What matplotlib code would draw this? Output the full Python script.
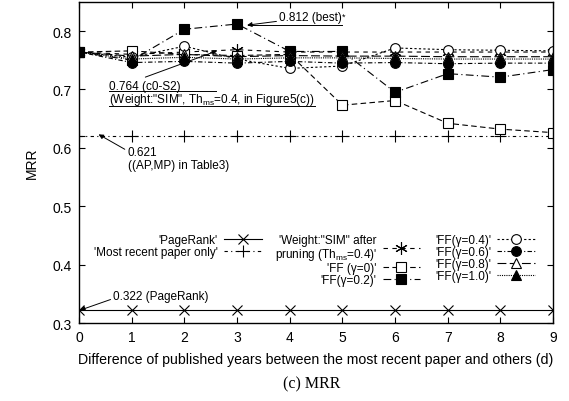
import matplotlib
matplotlib.use("Agg")
import matplotlib.pyplot as plt
from matplotlib.lines import Line2D
import numpy as np

plt.rcParams['font.family'] = ['Liberation Sans', 'DejaVu Sans']
plt.rcParams['mathtext.fontset'] = 'custom'
plt.rcParams['mathtext.rm'] = 'Liberation Sans'
plt.rcParams['mathtext.it'] = 'Liberation Sans:italic'

# d = difference of published years
d = np.arange(10)

pagerank = [0.322] * 10
most_recent = [0.621] * 10
weight_sim = [0.764, 0.760, 0.764, 0.768, 0.764, 0.764, 0.764, 0.764, 0.764, 0.764]
ff_00 = [0.764, 0.766, 0.760, 0.758, 0.760, 0.673, 0.681, 0.642, 0.632, 0.626]
ff_02 = [0.764, 0.750, 0.803, 0.812, 0.765, 0.765, 0.695, 0.727, 0.721, 0.734]
ff_04 = [0.764, 0.755, 0.774, 0.752, 0.736, 0.740, 0.771, 0.768, 0.767, 0.766]
ff_06 = [0.764, 0.746, 0.748, 0.745, 0.748, 0.745, 0.746, 0.744, 0.745, 0.745]
ff_08 = [0.764, 0.757, 0.760, 0.756, 0.758, 0.757, 0.757, 0.756, 0.756, 0.756]
ff_10 = [0.764, 0.752, 0.755, 0.752, 0.754, 0.754, 0.753, 0.752, 0.752, 0.752]

fig = plt.figure(figsize=(5.69, 4.02), dpi=100)
ax = fig.add_axes([0.139, 0.194, 0.833, 0.799])

lw = 0.8
ms = 7
kw = dict(color='black', lw=lw, ms=ms, mew=0.8)

l_pr, = ax.plot(d, pagerank, '-', marker='x', label="'PageRank'", **kw)
l_mr, = ax.plot(d, most_recent, linestyle=(0, (3, 3, 1, 3)), marker='+', ms=9,
                color='black', lw=lw, mew=0.8, label="'Most recent paper only'")
l_ws, = ax.plot(d, weight_sim, linestyle=(0, (4, 4)), marker=(6, 2, 0), ms=9,
                color='black', lw=lw, mew=0.8,
                label="'Weight:\"SIM\" after\npruning (Th$_{\\rm ms}$=0.4)'")
l_f0, = ax.plot(d, ff_00, linestyle=(0, (5, 3)), marker='s', mfc='white',
                label="'FF (γ=0)'", **kw)
l_f2, = ax.plot(d, ff_02, linestyle=(0, (7, 3, 1, 3)), marker='s', mfc='black',
                label="'FF(γ=0.2)'", **kw)
l_f4, = ax.plot(d, ff_04, linestyle=(0, (2, 2)), marker='o', mfc='white',
                label="'FF(γ=0.4)'", **kw)
l_f6, = ax.plot(d, ff_06, linestyle=(0, (4, 2, 1, 2)), marker='o', mfc='black',
                label="'FF(γ=0.6)'", **kw)
l_f8, = ax.plot(d, ff_08, linestyle=(0, (8, 3)), marker='^', mfc='white',
                label="'FF(γ=0.8)'", **kw)
l_f1, = ax.plot(d, ff_10, linestyle=(0, (1, 1)), marker='^', mfc='black',
                label="'FF(γ=1.0)'", **kw)

ax.set_xlim(0, 9)
ax.set_ylim(0.3, 0.85)
ax.set_xticks(range(10))
ax.set_yticks([0.3, 0.4, 0.5, 0.6, 0.7, 0.8])
ax.set_yticklabels(['0.3', '0.4', '0.5', '0.6', '0.7', '0.8'])
ax.tick_params(direction='in', top=True, right=True, length=4, width=0.8,
               labelsize=10, pad=5)
for s in ax.spines.values():
    s.set_linewidth(1.0)
ax.set_xlabel('Difference of published years between the most recent paper and others (d)',
              fontsize=10.2, labelpad=6)
ax.set_ylabel('MRR', fontsize=10, labelpad=10)

leg_kw = dict(frameon=False, markerfirst=False, fontsize=8.5, handlelength=3.2,
              handletextpad=0.5, labelspacing=0.0, borderpad=0, borderaxespad=0,
              loc='upper right')
leg_top = 0.277
leg1 = ax.legend(handles=[l_pr, l_mr], bbox_to_anchor=(0.385, leg_top), **leg_kw)
ax.add_artist(leg1)
leg2 = ax.legend(handles=[l_ws, l_f0, l_f2], bbox_to_anchor=(0.72, leg_top), **leg_kw)
for t in leg2.get_texts():
    t.set_multialignment('right')
    t.set_linespacing(1.0)
ax.add_artist(leg2)
leg3 = ax.legend(handles=[l_f4, l_f6, l_f8, l_f1], bbox_to_anchor=(0.962, leg_top), **leg_kw)

arrow = dict(arrowstyle='-|>', lw=0.7, color='black', mutation_scale=7, shrinkA=0, shrinkB=0)
fs = 8.5
t_best = ax.annotate('0.812 (best)', xy=(3.19, 0.810), xytext=(3.8, 0.824),
                     fontsize=fs, va='center', ha='left', arrowprops=arrow)
t_c0a = ax.annotate('0.764 (c0-S2)', xy=(2.62, 0.766), xytext=(0.57, 0.706),
                    fontsize=fs, va='center', ha='left',
                    arrowprops=dict(arrow, relpos=(0.4, 1.0)))
t_c0b = ax.text(0.57, 0.684, '(Weight:"SIM", Th$_{\\rm ms}$=0.4, in Figure5(c))',
                fontsize=fs, va='center', ha='left')
ax.annotate('0.621\n((AP,MP) in Table3)', xy=(0.37, 0.623), xytext=(0.92, 0.582),
            fontsize=fs, va='center', ha='left', linespacing=1.1,
            arrowprops=dict(arrow, relpos=(0.0, 0.8)))
ax.annotate('0.322 (PageRank)', xy=(0.02, 0.322), xytext=(0.65, 0.346),
            fontsize=fs, va='center', ha='left',
            arrowprops=dict(arrow, relpos=(0.0, 0.3)))

fig.text(0.548, 0.045, '(c) MRR', fontsize=11.5, ha='center', va='center',
         family='Liberation Serif')

fig.canvas.draw()
renderer = fig.canvas.get_renderer()
inv = fig.transFigure.inverted()
for t in (t_best, t_c0a, t_c0b):
    bb = t.get_window_extent(renderer)
    (x0, y0), (x1, _) = inv.transform([(bb.x0, bb.y0 + 1), (bb.x1, bb.y0)])
    fig.add_artist(Line2D([x0, x1], [y0, y0], transform=fig.transFigure,
                          color='black', lw=0.7))
bb = t_best.get_window_extent(renderer)
xs, ys = inv.transform((bb.x1, bb.y1 - 1))
fig.text(xs, ys, '*', fontsize=6.5, ha='left', va='top')

fig.savefig('out.png', dpi=100)
